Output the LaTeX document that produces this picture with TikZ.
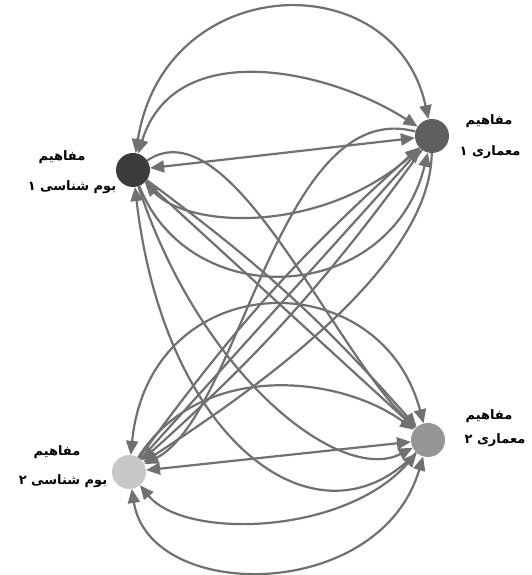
\documentclass[tikz,border=0pt]{standalone}
\usepackage{fontspec}
\newfontfamily\arabicfont[Script=Arabic]{DejaVu Sans Bold}
\TeXXeTstate=1
\usetikzlibrary{arrows.meta}
\definecolor{edgegray}{HTML}{707070}
\definecolor{ecoone}{HTML}{3C3C3C}
\definecolor{archone}{HTML}{5E5E5E}
\definecolor{ecotwo}{HTML}{C8C8C8}
\definecolor{archtwo}{HTML}{969696}
\begin{document}
\begin{tikzpicture}[x=1pt, y=1pt,
    >={Triangle[length=14pt,width=12pt]},
    concept/.style={circle, minimum size=34pt, inner sep=0pt},
    edge/.style={draw=edgegray, line width=2.2pt},
    lbl/.style={font=\arabicfont\fontsize{13}{15}\selectfont, inner sep=0pt}]
  \useasboundingbox (0,0) rectangle (531,575);

  \node[concept, fill=ecoone]  (A) at (133,405) {};
  \node[concept, fill=archone] (B) at (432,439) {};
  \node[concept, fill=ecotwo]  (C) at (129,103) {};
  \node[concept, fill=archtwo] (D) at (428,135) {};

  \node[lbl] (A1) at (62,418)  {\beginR مفاهیم\endR};
  \node[lbl] (A2) at (72,388)  {\beginR بوم شناسی ۱\endR};
  \node[lbl] (B1) at (489,454) {\beginR مفاهیم\endR};
  \node[lbl] (B2) at (490,423) {\beginR معماری ۱\endR};
  \node[lbl] (C1) at (57,123)  {\beginR مفاهیم\endR};
  \node[lbl] (C2) at (63,94)   {\beginR بوم شناسی ۲\endR};
  \node[lbl] (D1) at (489,159) {\beginR مفاهیم\endR};
  \node[lbl] (D2) at (495,135) {\beginR معماری ۲\endR};

  % top pair
  \draw[edge, <->] (A) .. controls (165,605) and (395,612) .. (B);
  \draw[edge, <->] (A) .. controls (175,540) and (330,505) .. (B);
  \draw[edge, <->] (A) -- (B);
  \draw[edge, <-] (A) .. controls (190,345) and (330,340) .. (B);
  \draw[edge, ->] (A) .. controls (190,260) and (390,270) .. (B);

  % bottom pair
  \draw[edge, <->] (C) .. controls (150,-28) and (380,-28) .. (D);
  \draw[edge, <->] (C) .. controls (185,35) and (345,40) .. (D);
  \draw[edge, <->] (C) -- (D);
  \draw[edge, ->] (C) .. controls (200,215) and (340,200) .. (D);
  \draw[edge, <->] (C) .. controls (150,310) and (380,315) .. (D);

  % crossing, A to D
  \draw[edge, ->] (A) .. controls (230,470) and (330,230) .. (D);
  \draw[edge, ->] (A) -- (D);
  \draw[edge, ->] (A) to[bend left=6] (D);
  \draw[edge, <-] (A) .. controls (165,130) and (320,20) .. (D);
  \draw[edge, ->] (A) .. controls (200,200) and (340,90) .. (D);

  % crossing, B to C
  \draw[edge, ->] (B) .. controls (280,480) and (240,160) .. (C);
  \draw[edge, <-] (B) -- (C);
  \draw[edge, <-] (B) to[bend right=6] (C);
  \draw[edge, ->] (B) to[bend left=6] (C);
  \draw[edge, ->] (B) .. controls (430,300) and (230,170) .. (C);
\end{tikzpicture}
\end{document}
